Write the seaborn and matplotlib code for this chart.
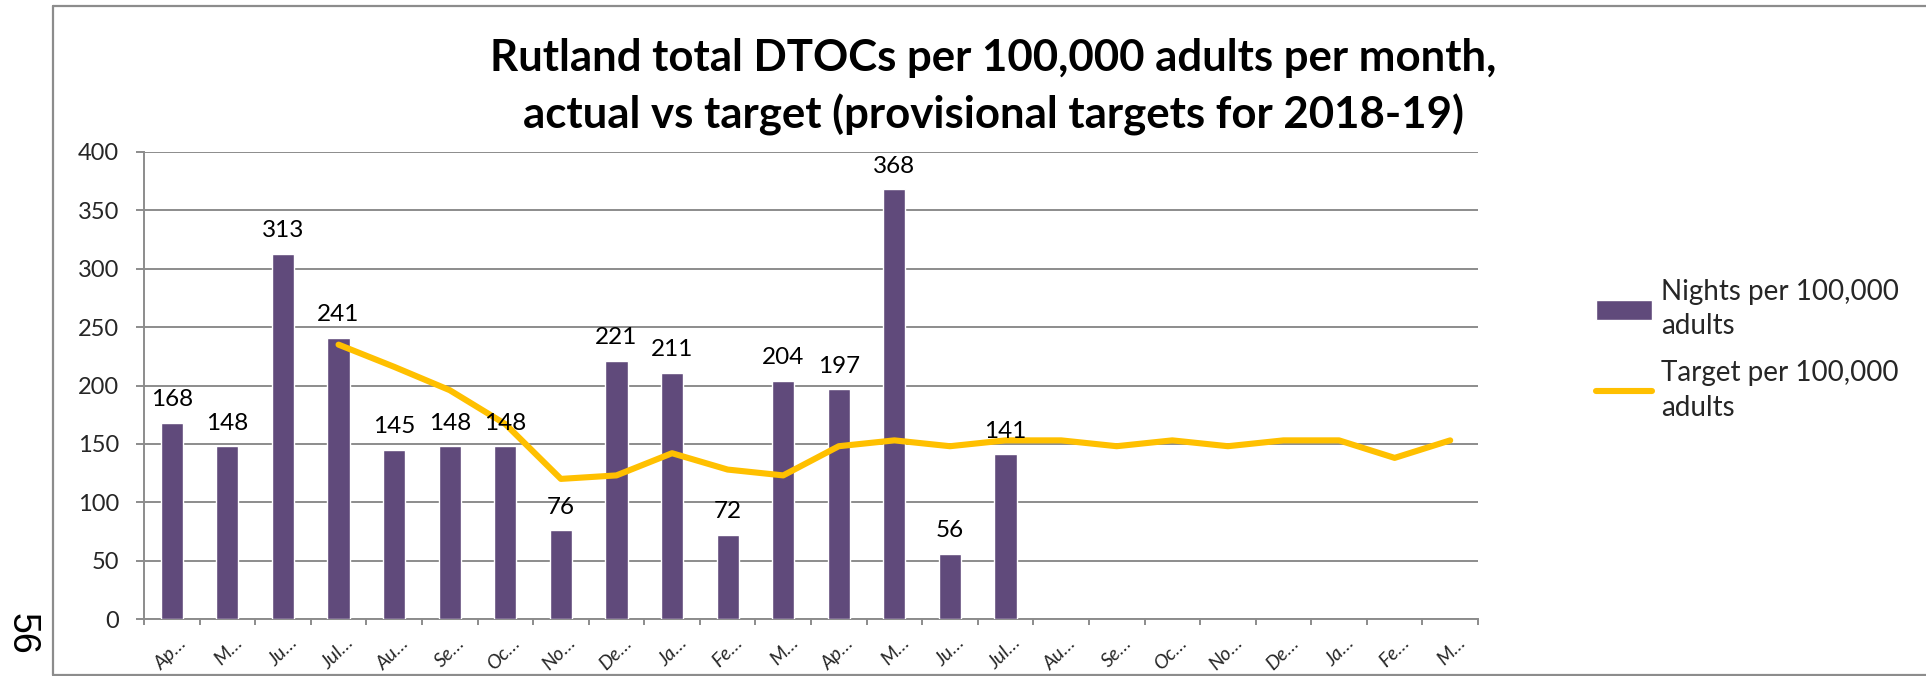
import numpy as np
import pandas as pd
import matplotlib
matplotlib.use("Agg")
import matplotlib.pyplot as plt
import matplotlib.transforms as mtransforms
from matplotlib.lines import Line2D
import seaborn as sns

# ---------------- data ----------------
months = ["Apr 2017", "May 2017", "Jun 2017", "Jul 2017", "Aug 2017", "Sep 2017",
          "Oct 2017", "Nov 2017", "Dec 2017", "Jan 2018", "Feb 2018", "Mar 2018",
          "Apr 2018", "May 2018", "Jun 2018", "Jul 2018", "Aug 2018", "Sep 2018",
          "Oct 2018", "Nov 2018", "Dec 2018", "Jan 2019", "Feb 2019", "Mar 2019"]
tick_labels = ["Ap…", "M…", "Ju…", "Jul…", "Au…", "Se…", "Oc…", "No…", "De…", "Ja…",
               "Fe…", "M…", "Ap…", "M…", "Ju…", "Jul…", "Au…", "Se…", "Oc…", "No…",
               "De…", "Ja…", "Fe…", "M…"]
nights = [168, 148, 313, 241, 145, 148, 148, 76, 221, 211, 72, 204, 197, 368, 56, 141,
          np.nan, np.nan, np.nan, np.nan, np.nan, np.nan, np.nan, np.nan]
target = [np.nan, np.nan, np.nan, 235, 216, 196, 167, 120, 123, 142, 128, 123,
          148, 153, 148, 153, 153, 148, 153, 148, 153, 153, 138, 153]
y_ticks = [0, 50, 100, 150, 200, 250, 300, 350, 400]
series_names = ["Nights per 100,000\nadults", "Target per 100,000\nadults"]
title = ("Rutland total DTOCs per 100,000 adults per month,\n"
         "actual vs target (provisional targets for 2018-19)")
page_number = "56"

BAR_C = "#604A7B"
LINE_C = "#FFC000"
GRID_C = "#8C8C8C"

sns.set_theme(style="white")
plt.rcParams["font.family"] = ["Lato", "DejaVu Sans"]

W, H = 1926, 676
fig = plt.figure(figsize=(W / 100, H / 100), dpi=100)
fig.patch.set_facecolor("white")

# outer chart border (left, top, bottom)
for xs, ys in [((53 / W, 53 / W), (1 - 6 / H, 1 - 675 / H)),
               ((53 / W, 1.0), (1 - 6 / H, 1 - 6 / H)),
               ((53 / W, 1.0), (1 - 675 / H, 1 - 675 / H))]:
    fig.add_artist(Line2D(xs, ys, transform=fig.transFigure, color="#8C8C8C", lw=1.6))

ax = fig.add_axes([144 / W, 1 - 619 / H, (1478 - 144) / W, (619 - 152) / H])

df = pd.DataFrame({"month": months, "pos": np.arange(len(months)),
                   "nights": nights, "target": target})

sns.barplot(data=df, x="month", y="nights", order=months, color=BAR_C,
            saturation=1, width=0.4, errorbar=None, ax=ax, label=series_names[0],
            zorder=3)
sns.lineplot(data=df.dropna(subset=["target"]), x="pos", y="target", color=LINE_C,
             lw=4.4, ax=ax, label=series_names[1], zorder=4,
             solid_capstyle="round", solid_joinstyle="round")

# data labels
cont = ax.containers[0]
labels = [f"{v:.0f}" if np.isfinite(v) else "" for v in cont.datavalues]
ax.bar_label(cont, labels=labels, padding=9, fontsize=17.5, color="black", zorder=5)

# axes styling
ax.set_xlim(-0.5, len(months) - 0.5)
ax.set_ylim(0, 400)
ax.set_yticks(y_ticks)
ax.set_xlabel("")
ax.set_ylabel("")
ax.grid(axis="y", color=GRID_C, lw=1.4, zorder=0)
ax.grid(axis="x", visible=False)
ax.set_axisbelow(True)
for s in ["top", "right"]:
    ax.spines[s].set_visible(False)
for s in ["left", "bottom"]:
    ax.spines[s].set_color(GRID_C)
    ax.spines[s].set_linewidth(1.4)

ax.set_xticks(np.arange(len(months)))
ax.set_xticklabels(tick_labels, rotation=45, ha="right", rotation_mode="anchor",
                   fontsize=14, fontstyle="italic")
ax.set_xticks(np.arange(len(months) + 1) - 0.5, minor=True)
ax.tick_params(axis="x", which="major", length=0, pad=11)
ax.tick_params(axis="x", which="minor", length=4, width=1.4, color=GRID_C,
               direction="out", bottom=True)
ax.tick_params(axis="y", length=6, width=1.4, color=GRID_C, direction="out",
               left=True, pad=12, labelsize=17)
off = mtransforms.ScaledTranslation(6 / 100, 0, fig.dpi_scale_trans)
for lab in ax.get_xticklabels():
    lab.set_transform(lab.get_transform() + off)

# legend (bars first, then target line)
handles, labs = ax.get_legend_handles_labels()
order = [labs.index(series_names[0]), labs.index(series_names[1])]
leg = ax.legend([handles[i] for i in order], [labs[i] for i in order], loc="upper left",
                bbox_to_anchor=(1596 / W, 1 - 279 / H), bbox_transform=fig.transFigure,
                frameon=False, fontsize=20, handlelength=2.0, handletextpad=0.35,
                labelspacing=0.75, borderpad=0, borderaxespad=0)
for t in leg.get_texts():
    t.set_linespacing(1.4)

# title
fig.text(993 / W, 1 - 38 / H, title, ha="center", va="top", fontsize=31.5,
         fontweight="bold", linespacing=1.45, color="black")

# page number
fig.text(22 / W, 1 - 634 / H, page_number, rotation=270, ha="center", va="center",
         fontsize=27, family=["Liberation Sans", "DejaVu Sans"], color="black")

fig.savefig("out.png", dpi=100, facecolor="white")
